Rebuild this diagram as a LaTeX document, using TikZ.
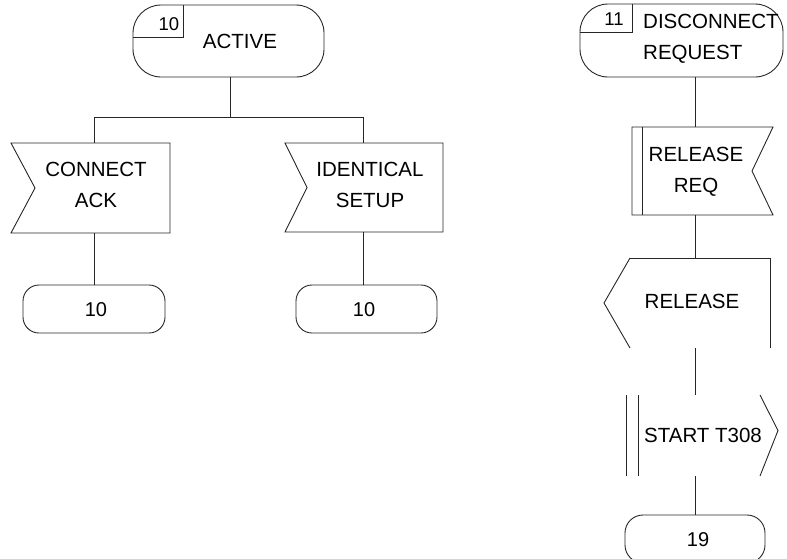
\documentclass[tikz,border=0pt]{standalone}
\usepackage{fontspec}
\setmainfont{Liberation Sans}
\usetikzlibrary{calc}

\tikzset{
  outline/.style={draw=black!85, line width=0.9pt},
  frame/.style={inner sep=0pt, outer sep=0pt},
  statebox/.style={frame, outline, rounded corners=#1},
  txt/.style={inner sep=0pt, font=\fontsize{20.5}{31}\selectfont, text=black},
  numtxt/.style={inner sep=0pt, font=\fontsize{20}{22}\selectfont, text=black},
  lbltxt/.style={inner sep=0pt, font=\fontsize{18.5}{20}\selectfont, text=black},
  link/.style={outline}
}

\begin{document}
\begin{tikzpicture}[x=1pt, y=-1pt]
\useasboundingbox (0,0) rectangle (787,558);

% ---------------- state 10: ACTIVE ----------------
\node[statebox=28pt, minimum width=191pt, minimum height=72pt] (active) at (228.5,41) {};
\draw[outline] ($(active.north west)+(50,0)$) |- ($(active.north west)+(0,32)$);
\node[lbltxt] (activenum) at (169,24) {10};
\node[txt] (activetxt) at (240,41) {ACTIVE};

% input signals
\node[frame, minimum width=159pt, minimum height=90pt] (ack) at (90.5,188) {};
\draw[outline] (ack.north west) -- (ack.north east) -- (ack.south east)
  -- (ack.south west) -- ($(ack.west)+(24,0)$) -- cycle;
\node[txt, align=center] (acktxt) at (96,185) {CONNECT\\ACK};

\node[frame, minimum width=158pt, minimum height=89pt] (ident) at (364,187.5) {};
\draw[outline] (ident.north west) -- (ident.north east) -- (ident.south east)
  -- (ident.south west) -- ($(ident.west)+(22,0)$) -- cycle;
\node[txt, align=center] (identtxt) at (370,185) {IDENTICAL\\SETUP};

% next states
\node[statebox=16pt, minimum width=142pt, minimum height=48pt] (nexta) at (94,309) {};
\node[numtxt] (nextatxt) at (96,310) {10};
\node[statebox=16pt, minimum width=141pt, minimum height=48pt] (nextb) at (366.5,309) {};
\node[numtxt] (nextbtxt) at (364,310) {10};

% branching connectors
\coordinate (fork) at (230,117);
\coordinate (bl) at (94,117);
\coordinate (br) at (363,117);
\draw[link] (fork |- active.south) -- (fork);
\draw[link] (bl |- ack.north) -- (bl) -- (br) -- (br |- ident.north);
\draw[link] (bl |- ack.south) -- (bl |- nexta.north);
\draw[link] (br |- ident.south) -- (br |- nextb.north);

% ---------------- state 11: DISCONNECT REQUEST ----------------
\node[statebox=28pt, minimum width=203pt, minimum height=73pt] (disc) at (681.5,40.5) {};
\draw[outline] ($(disc.north west)+(52,0)$) |- ($(disc.north west)+(0,28)$);
\node[lbltxt] (discnum) at (614,19) {11};
\node[txt, anchor=west, align=left] (disctxt) at (643,39) {DISCONNECT\\REQUEST};

% priority input signal
\node[frame, minimum width=141pt, minimum height=88pt] (relreq) at (702.5,171) {};
\draw[outline] (relreq.north west) -- (relreq.north east) -- ($(relreq.east)+(-21,0)$)
  -- (relreq.south east) -- (relreq.south west) -- cycle;
\draw[outline] ($(relreq.north west)+(10,0)$) -- ($(relreq.south west)+(10,0)$);
\node[txt, align=center] (relreqtxt) at (696,172) {RELEASE\\REQ};

% output signal
\node[frame, minimum width=166pt, minimum height=90pt] (release) at (687,303) {};
\draw[outline] ($(release.north west)+(26,0)$) -- (release.north east) -- (release.south east);
\draw[outline] ($(release.north west)+(26,0)$) -- (release.west) -- ($(release.south west)+(26,0)$);
\node[txt] (releasetxt) at (692,301) {RELEASE};

% timer task
\node[frame, minimum width=152pt, minimum height=81pt] (start) at (702,435.5) {};
\draw[outline] (start.north west) -- (start.south west);
\draw[outline] ($(start.north west)+(12,0)$) -- ($(start.south west)+(12,0)$);
\draw[outline] ($(start.north east)+(-18,0)$) -- ($(start.east)+(0,-5)$) -- ($(start.south east)+(-18,0)$);
\node[txt] (starttxt) at (703,435) {START T308};

% next state
\node[statebox=18pt, minimum width=140pt, minimum height=48pt] (st19) at (695,539) {};
\node[numtxt] (st19txt) at (698,540) {19};

% spine connectors
\coordinate (spine) at (695,0);
\draw[link] (spine |- disc.south) -- (spine |- relreq.north);
\draw[link] (spine |- relreq.south) -- (spine |- release.north);
\draw[link] (spine |- release.south) -- (spine |- start.north);
\draw[link] (spine |- start.south) -- (spine |- st19.north);
\end{tikzpicture}
\end{document}
